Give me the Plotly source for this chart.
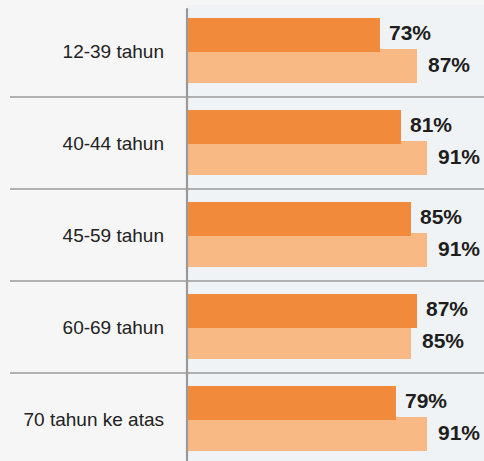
import plotly.graph_objects as go

categories = ["12-39 tahun", "40-44 tahun", "45-59 tahun", "60-69 tahun", "70 tahun ke atas"]
series_a = [73, 81, 85, 87, 79]   # dark orange
series_b = [87, 91, 91, 85, 91]   # light orange
value_labels_a = [f"{v}%" for v in series_a]
value_labels_b = [f"{v}%" for v in series_b]

DARK = "#F28A3B"
LIGHT = "#F8B984"
pos = list(range(len(categories)))

Y_TOP = -0.5
Y_BOT = 4.457
X_MAX = 112.5

fig = go.Figure()
fig.add_trace(go.Bar(
    y=pos, x=series_b, orientation="h", marker=dict(color=LIGHT, line=dict(width=0)),
    width=0.37, offset=-0.02, hoverinfo="skip", showlegend=False))
fig.add_trace(go.Bar(
    y=pos, x=series_a, orientation="h", marker=dict(color=DARK, line=dict(width=0)),
    width=0.37, offset=-0.36, hoverinfo="skip", showlegend=False))

VAL_FONT = dict(family="Liberation Sans, Arial, sans-serif", size=21, color="#1e1e1e", weight="bold")
annotations = []
for i, (a, b) in enumerate(zip(series_a, series_b)):
    annotations.append(dict(x=a, y=i - 0.2, xref="x", yref="y", text=value_labels_a[i],
                            showarrow=False, xanchor="left", yanchor="middle", xshift=7,
                            font=VAL_FONT))
    annotations.append(dict(x=b, y=i + 0.15, xref="x", yref="y", text=value_labels_b[i],
                            showarrow=False, xanchor="left", yanchor="middle", xshift=9,
                            font=VAL_FONT))

def ypaper(v):
    return (Y_BOT - v) / (Y_BOT - Y_TOP)

shapes = []
for i in range(len(categories) - 1):
    yp = ypaper(i + 0.5)
    shapes.append(dict(type="line", xref="paper", yref="paper", x0=-0.596, x1=1,
                       y0=yp, y1=yp, line=dict(color="#9a9a9a", width=1.5), layer="above"))
shapes.append(dict(type="line", xref="paper", yref="paper", x0=0, x1=0, y0=0, y1=0.993,
                   line=dict(color="#999999", width=2.2), layer="above"))

fig.update_layout(
    width=484, height=461,
    margin=dict(l=187, r=0, t=5, b=0),
    paper_bgcolor="#f6f6f6",
    plot_bgcolor="#f0f3f5",
    barmode="overlay",
    bargap=0,
    showlegend=False,
    annotations=annotations,
    shapes=shapes,
    xaxis=dict(range=[0, X_MAX], visible=False, showgrid=False, zeroline=False, fixedrange=True),
    yaxis=dict(range=[Y_BOT, Y_TOP], tickmode="array", tickvals=pos, ticktext=categories,
               showgrid=False, zeroline=False, showline=False, ticks="",
               ticklabelstandoff=22,
               tickfont=dict(family="Liberation Sans, Arial, sans-serif", size=19, color="#222222")),
)

fig.write_html("out.html", config={"displayModeBar": False},
               post_script="document.body.style.margin='0';document.body.style.overflow='hidden';")
